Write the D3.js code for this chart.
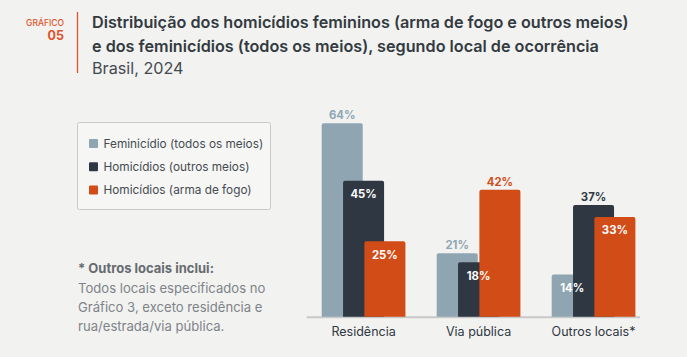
<!DOCTYPE html>
<html><head><meta charset="utf-8">
<script src="https://cdn.jsdelivr.net/npm/d3@7"></script>
<style>
html,body{margin:0;padding:0;background:#f2f2f1;}
svg{display:block;font-family:Inter,"Noto Sans",sans-serif;}
</style></head>
<body>
<svg id="c" width="687" height="357"></svg>
<script>
const categories = ["Residência", "Via pública", "Outros locais*"];
const seriesNames = ["Feminicídio (todos os meios)", "Homicídios (outros meios)", "Homicídios (arma de fogo)"];
const feminicidio = [64, 21, 14];
const homicidiosOutros = [45, 18, 37];
const homicidiosArma = [25, 42, 33];
const seriesValues = [feminicidio, homicidiosOutros, homicidiosArma];
const colors = ["#8fa6b2", "#2f3842", "#d24c17"];
const titleLines = ["Distribuição dos homicídios femininos (arma de fogo e outros meios)", "e dos feminicídios (todos os meios), segundo local de ocorrência"];
const subtitle = "Brasil, 2024";
const noteTitle = "* Outros locais inclui:";
const noteLines = ["Todos locais especificados no", "Gráfico 3, exceto residência e", "rua/estrada/via pública."];

const svg = d3.select("#c");

// header
svg.append("text").attr("x", 64).attr("y", 25.5).attr("text-anchor", "end")
  .attr("font-size", 8.5).attr("font-weight", 500).attr("fill", "#e0522a").text("GRÁFICO");
svg.append("text").attr("x", 64).attr("y", 39.5).attr("text-anchor", "end")
  .attr("font-size", 12.5).attr("font-weight", 700).attr("fill", "#e0522a").text("05");
svg.append("line").attr("x1", 77.5).attr("x2", 77.5).attr("y1", 12).attr("y2", 73)
  .attr("stroke", "#e0522a").attr("stroke-width", 1.3);
titleLines.forEach((t, i) => {
  svg.append("text").attr("x", 92).attr("y", 28 + i * 24).attr("font-size", 16.2)
    .attr("font-weight", 600).attr("fill", "#333a40").text(t);
});
svg.append("text").attr("x", 92).attr("y", 74).attr("font-size", 16.2)
  .attr("font-weight", 400).attr("fill", "#444b50").text(subtitle);

// legend
const lg = svg.append("g");
lg.append("rect").attr("x", 77.5).attr("y", 122.5).attr("width", 193).attr("height", 87)
  .attr("rx", 2).attr("fill", "#f6f6f5").attr("stroke", "#c9c9c9").attr("stroke-width", 1);
seriesNames.forEach((n, i) => {
  const cy = 143.5 + i * 23.3;
  lg.append("rect").attr("x", 89).attr("y", cy - 4.5).attr("width", 9).attr("height", 9)
    .attr("rx", 1).attr("fill", colors[i]);
  lg.append("text").attr("x", 103.5).attr("y", cy + 4.2).attr("font-size", 11.8)
    .attr("fill", "#454b50").text(n);
});

// note
svg.append("text").attr("x", 78).attr("y", 273).attr("font-size", 13)
  .attr("font-weight", 700).attr("fill", "#666b70").text(noteTitle);
noteLines.forEach((t, i) => {
  svg.append("text").attr("x", 78).attr("y", 292.5 + i * 19).attr("font-size", 13.1)
    .attr("fill", "#7e8388").text(t);
});

// chart
const baseY = 316.7;
const y = d3.scaleLinear().domain([0, 64]).range([baseY, 123.3]);
const x0 = d3.scaleBand().domain(categories).range([321.7, 635.4]).paddingInner(0.272).paddingOuter(0);
const groupW = x0.bandwidth();
const barW = groupW * 0.49;
const xs = d3.scaleLinear().domain([0, seriesValues.length - 1]).range([0, groupW - barW]);

const chart = svg.append("g");
chart.append("line").attr("x1", 306.7).attr("x2", 640).attr("y1", baseY + 0.5).attr("y2", baseY + 0.5)
  .attr("stroke", "#c9c9c9").attr("stroke-width", 2);

const r = 2;
function barPath(x, yt, w, h) {
  return `M${x},${yt + h}V${yt + r}Q${x},${yt} ${x + r},${yt}H${x + w - r}Q${x + w},${yt} ${x + w},${yt + r}V${yt + h}Z`;
}
categories.forEach((c, ci) => {
  seriesValues.forEach((vals, si) => {
    const v = vals[ci];
    const bx = x0(c) + xs(si);
    const yt = y(v);
    chart.append("path").attr("d", barPath(bx, yt, barW, baseY - yt)).attr("fill", colors[si]);
  });
  seriesValues.forEach((vals, si) => {
    const v = vals[ci];
    const left = si > 0 ? seriesValues[si - 1][ci] : -Infinity;
    const right = si < seriesValues.length - 1 ? seriesValues[si + 1][ci] : -Infinity;
    const inside = left > v || right > v;
    const bx = x0(c) + xs(si) + barW / 2;
    const ty = inside ? y(v) + 17.5 : y(v) - 4;
    chart.append("text").attr("x", bx).attr("y", ty).attr("text-anchor", "middle")
      .attr("font-size", 11.3).attr("font-weight", 700)
      .attr("fill", inside ? "#ffffff" : colors[si]).text(v + "%");
  });
});

const xAxis = d3.axisBottom(x0).tickSize(0).tickPadding(10);
const ax = chart.append("g").attr("transform", `translate(0,${baseY})`).call(xAxis);
ax.select(".domain").remove();
ax.selectAll("text").attr("font-size", 12.5).attr("fill", "#2f3842")
  .attr("font-family", "Inter, 'Noto Sans', sans-serif");
</script>
</body></html>
